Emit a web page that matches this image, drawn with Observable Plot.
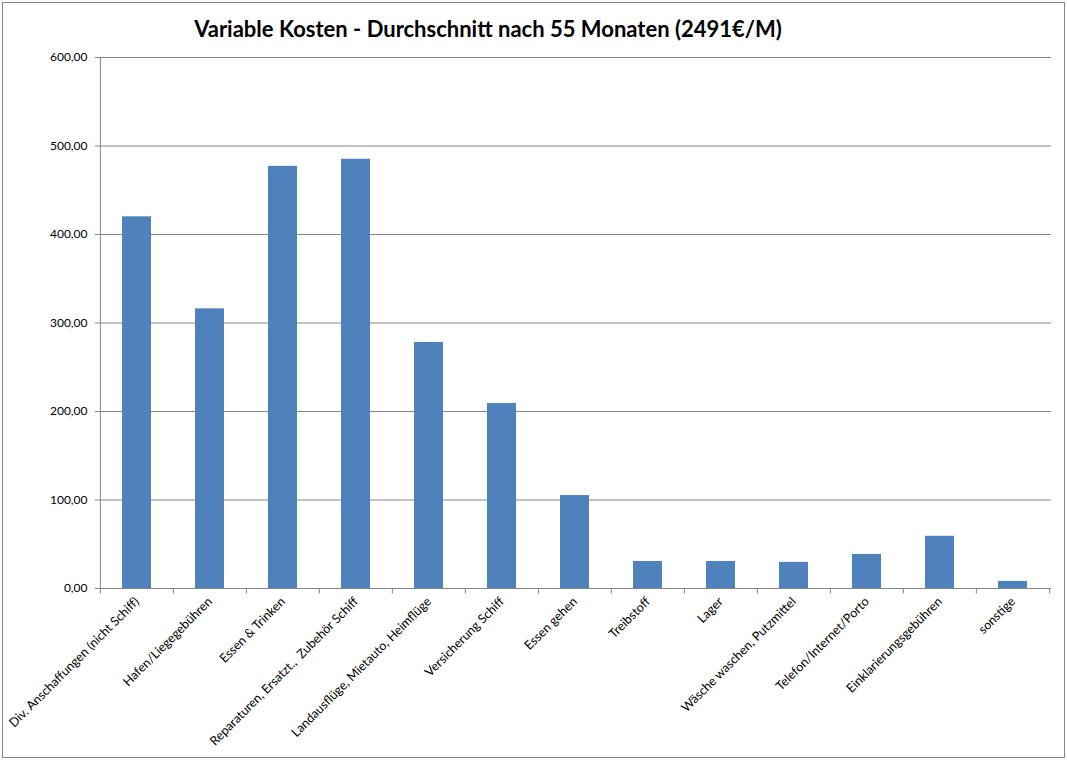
<!DOCTYPE html>
<html>
<head>
<meta charset="utf-8">
<script src="https://cdn.jsdelivr.net/npm/d3@7"></script>
<script src="https://cdn.jsdelivr.net/npm/@observablehq/plot@0.6"></script>
<style>
  html, body { margin: 0; padding: 0; background: #fff; }
  #wrap { position: relative; width: 1067px; height: 760px; overflow: hidden; font-family: Lato, "Open Sans", sans-serif; }
  #border { position: absolute; left: 2px; top: 2px; width: 1061px; height: 754px; border: 1px solid #868686; pointer-events: none; }
  #title { position: absolute; left: 0; width: 976px; top: 15px; text-align: center; font-size: 22px; font-weight: bold; color: #000; }
  #chart { position: absolute; left: 0; top: 0; }
</style>
</head>
<body>
<div id="wrap">
  <div id="chart"></div>
  <div id="title">Variable Kosten - Durchschnitt nach 55 Monaten (2491€/M)</div>
  <div id="border"></div>
</div>
<script>
const categories = [
  "Div. Anschaffungen (nicht Schiff)",
  "Hafen/Liegegebühren",
  "Essen & Trinken",
  "Reparaturen, Ersatzt.,  Zubehör Schiff",
  "Landausflüge, Mietauto, Heimflüge",
  "Versicherung Schiff",
  "Essen gehen",
  "Treibstoff",
  "Lager",
  "Wäsche waschen, Putzmittel",
  "Telefon/Internet/Porto",
  "Einklarierungsgebühren",
  "sonstige"
];
const values = [420, 316, 477, 485, 278, 209, 105, 30.5, 30.5, 29.5, 38.5, 59, 8];
const yTicks = [0, 100, 200, 300, 400, 500, 600];

const data = categories.map((c, i) => ({category: c, value: values[i]}));
const fmt = d => d3.format(".2f")(d).replace(".", ",");

const width = 1067, height = 760;
const marginLeft = 99, marginRight = 16;
const step = (width - marginLeft - marginRight) / categories.length;

const chart = Plot.plot({
  width, height,
  marginLeft, marginRight,
  marginTop: 57,
  marginBottom: 172,
  style: {fontFamily: "Lato, 'Open Sans', sans-serif", fontSize: "11px", color: "#000", background: "transparent"},
  x: {domain: categories, paddingInner: 0.6, paddingOuter: 0.3, label: null},
  y: {domain: [0, 600], label: null},
  marks: [
    Plot.gridY(yTicks, {stroke: "#868686", strokeOpacity: 1}),
    Plot.barY(data, {x: "category", y: "value", fill: "#4F81BD"}),
    Plot.ruleY([0], {stroke: "#868686"}),
    Plot.ruleX([categories[0]], {y1: 0, y2: 600, dx: -step / 2, stroke: "#868686"}),
    Plot.ruleX(categories, {y1: 0, y2: -6.2, dx: -step / 2, stroke: "#868686"}),
    Plot.ruleX([categories[categories.length - 1]], {y1: 0, y2: -6.2, dx: step / 2, stroke: "#868686"}),
    Plot.axisY(yTicks, {tickFormat: fmt, tickSize: 4, tickPadding: 8, stroke: "#868686", fontSize: 12, fill: "#000"}),
    Plot.axisX({tickSize: 0, tickRotate: -45, tickPadding: 11, fontSize: 12.5, fill: "#000"})
  ]
});
document.getElementById("chart").appendChild(chart);
</script>
</body>
</html>
